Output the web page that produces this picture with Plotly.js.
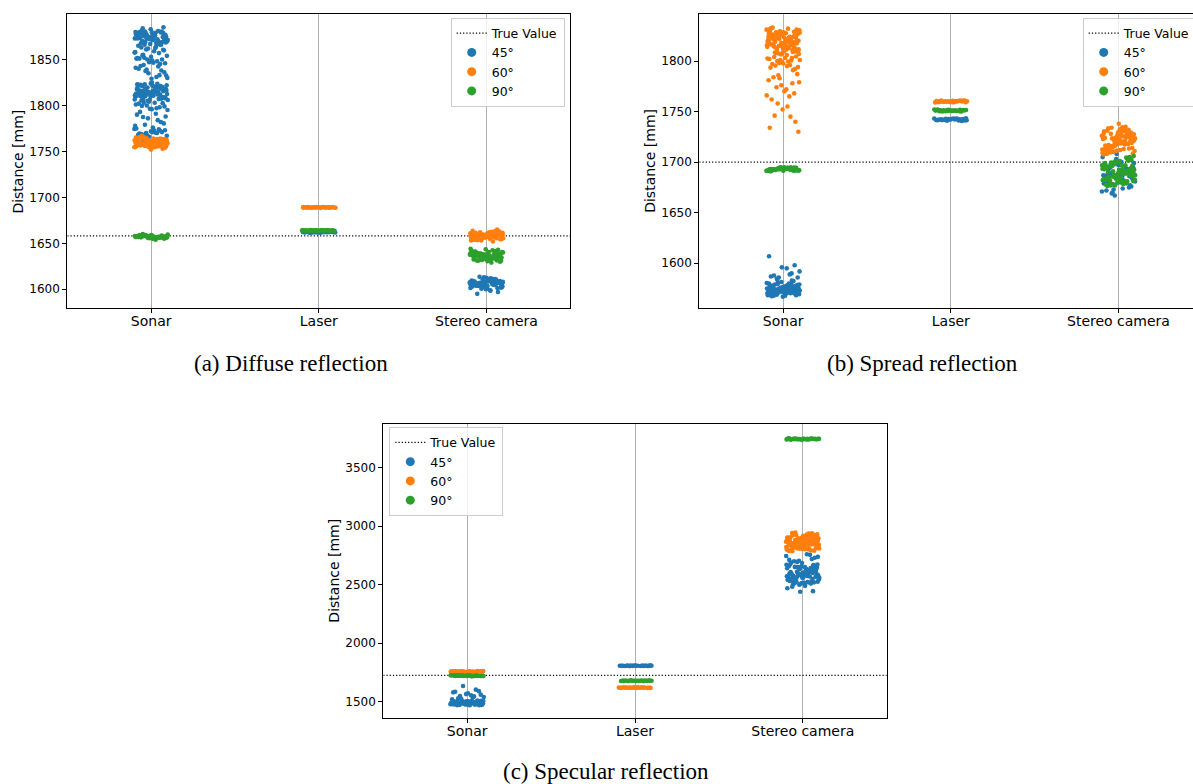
<!DOCTYPE html>
<html><head><meta charset="utf-8">
<script src="https://cdn.plot.ly/plotly-3.0.1.min.js"></script>
<style>html,body{margin:0;padding:0;overflow:hidden;background:#fff}</style>
</head><body><div id="chart"></div>
<script>
// ---------- categories / labels ----------
const categories = ['Sonar', 'Laser', 'Stereo camera'];
const angleLabels = ['45°', '60°', '90°'];
const trueValueLabel = 'True Value';
const yTitle = 'Distance [mm]';
const captions = ['(a) Diffuse reflection', '(b) Spread reflection', '(c) Specular reflection'];
const trueValues = [1658, 1700, 1725];

// ---------- (a) Diffuse reflection ----------
const diffSonar45 = [1876,1870,1879,1867,1873,1881,1869,1875,1872,1878,1866,1874,1880,1868,1877,1871,1875,1879,1867,1873,1870,1876,1881,1869,1874,1878,1872,1866,1877,1871,1880,1868,1875,1873,1879,1884,1885,1883,
  1876.5,1869.5,1878.5,1871.5,1874.5,1867.5,1880.5,1872.5,1877.5,1868.5,1875.5,1870.5,1879.5,1873.5,1866.5,1876.5,1871.5,1878.5,1869.5,1874.5,1872.5,1877.5,1870.5,1880.5,1868.5,1875.5,1873.5,1879.5,
  1862,1858,1864,1855,1860,1853,1865,1857,1861,1854,1859,1863,1850,1847,1851,1848,1852,1846,1849,1851,1845,1850,
  1857.5,1862.5,1854.5,1860.5,1848.5,1851.5,1842.5,1837.5,1832.5,1846.5,
  1843,1838,1835,1841,1831,1844,1836,1829,1840,1833,1839,1830,
  1815,1810,1820,1806,1818,1812,1823,1808,1816,1813,1821,1805,1811,1819,1814,1809,1824,1817,1807,1812,1822,1815,1810,1818,1804,1813,1820,1816,1808,1825,1811,1819,1814,1806,1817,1821,1809,1812,1823,1815,1810,1818,1813,1816,1820,
  1814.5,1809.5,1819.5,1806.5,1817.5,1811.5,1822.5,1807.5,1815.5,1812.5,1820.5,1805.5,1818.5,1813.5,1810.5,1823.5,1816.5,1808.5,1821.5,1814.5,1811.5,1819.5,1806.5,1817.5,1812.5,1815.5,1809.5,1820.5,1813.5,1818.5,1816.5,1810.5,1822.5,1807.5,1814.5,
  1801,1797,1803,1799,1796,1802,1798,1800,1795,1803,1799.5,1802.5,1796.5,
  1790,1784,1779,1788,1776,1793,1782,1786,1778,1791,1787.5,1780.5,
  1772,1768,1774,1770,1767,1773,1769,1771,1766,1775,1770,1768,1773,1771,1769.5,1772.5,1767.5,1774.5,1770.5,
  1760,1763,1758,1765,1761,1764];
const diffSonar60 = [1760,1756,1763,1758,1765,1754,1761,1757,1764,1759,1762,1755,1766,1760,1757,1763,1758,1761,1756,1764,1759,1762,1755,1765,1760,1757,1763,1758,1761,1756,1764,1759,1762,1767,1753,1760,1758,1763,1756,1761,1759,1765,1757,1762,1755,1760,1764,1758,1752,1761,
  1759.5,1756.5,1762.5,1754.5,1764.5,1757.5,1761.5,1755.5,1763.5,1758.5,1760.5,1756.5,1765.5,1758.5,1762.5,1754.5,1760.5,1757.5,1763.5,1759.5,1761.5,1755.5,1764.5,1758.5,1762.5,1756.5,1760.5,1757.5,1759.5,1761.5];
const diffSonar90 = [1657,1656,1658,1655,1659,1657,1656,1658,1657,1655,1659,1656,1658,1657,1656,1658,1657,1655,1659,1657,1656,1658,1654,1660,1657,1656,1658,1657,1659,1656,
  1657.5,1656.5,1658.5,1655.5,1657.5,1656.5,1658.5,1657.5,1655.5,1658.5,1656.5,1657.5,1659.5,1656.5,1657.5];
const diffLaser45 = [1661.8,1662.3,1661.5,1662.6,1662.0,1661.7,1662.4,1661.9,1662.2,1661.6,1662.5,1662.1,1661.8,1662.3,1662.0,1661.6,1662.4,1661.9,1662.2,1662.0];
const diffLaser60 = [1689.1,1688.7,1689.4,1688.9,1689.2,1688.6,1689.5,1689.0,1688.8,1689.3,1689.1,1688.7,1689.4,1689.0,1688.9,1689.2,1689.3,1688.8,1689.1,1689.0,1688.6,1689.5,1689.2,1688.9,1689.1];
const diffLaser90 = [1663.8,1664.2,1663.6,1664.4,1664.0,1663.7,1664.3,1663.9,1664.1,1663.5,1664.5,1664.0,1663.8,1664.2,1663.9,1664.1,1663.7,1664.3,1664.0,1663.6,1664.4,1663.9,1664.1,1664.0,1663.8];
const diffStereo45 = [1606,1603,1609,1605,1601,1608,1604,1611,1607,1602,1610,1605,1608,1603,1606,1612,1604,1607,1600,1609,1605,1606,1602,1610,1604,1608,1613,1603,1607,1605,1609,1601,1606,1611,1604,1608,1599,1595,1597,1606,1603,1609,
  1605.5,1602.5,1608.5,1604.5,1610.5,1606.5,1601.5,1609.5,1603.5,1607.5,1612.5,1605.5,1608.5,1600.5,1606.5,1611.5,1604.5,1607.5,1602.5,1609.5,1605.5,1613.5,1606.5,1603.5,1608.5,1604.5,1610.5,1607.5,1598.5,1606.5];
const diffStereo60 = [1658,1655,1661,1657,1653,1660,1656,1662,1659,1654,1663,1657,1660,1655,1658,1661,1656,1659,1652,1662,1657,1660,1654,1658,1656,1661,1659,1655,1663,1657,1658,1660,1653,1656,1662,1659,1665,1657,1655,1660,
  1657.5,1654.5,1660.5,1656.5,1662.5,1658.5,1655.5,1661.5,1653.5,1659.5,1657.5,1663.5,1656.5,1660.5,1654.5,1658.5,1661.5,1655.5,1659.5,1657.5,1662.5,1656.5,1660.5,1658.5,1654.5,1659.5,1657.5,1661.5,1655.5,1658.5];
const diffStereo90 = [1636,1633,1639,1635,1631,1638,1634,1641,1637,1632,1640,1635,1638,1633,1636,1642,1634,1637,1630,1639,1635,1636,1632,1640,1634,1638,1643,1633,1637,1635,1639,1631,1636,1641,1634,1638,1644,1629,1636,1637,
  1635.5,1632.5,1638.5,1634.5,1640.5,1636.5,1631.5,1639.5,1633.5,1637.5,1642.5,1635.5,1638.5,1630.5,1636.5,1641.5,1634.5,1637.5,1632.5,1639.5,1635.5,1643.5,1636.5,1633.5,1638.5,1634.5,1640.5,1637.5,1631.5,1636.5];

// ---------- (b) Spread reflection ----------
const sprSonar45 = [1575,1571,1579,1573,1568,1577,1572,1580,1574,1569,1578,1576,1570,1582,1573,1575,1571,1579,1574,1567,1577,1572,1581,1575,1570,1578,1573,1576,1569,1580,1574,1572,1577,1571,1583,1575,1573,1578,1570,1576,1574,1579,1572,1584,1575,1568,1577,1573,
  1574.5,1570.5,1578.5,1572.5,1568.5,1576.5,1571.5,1579.5,1573.5,1569.5,1577.5,1575.5,1570.5,1581.5,1572.5,1574.5,1571.5,1578.5,1573.5,1567.5,1576.5,1572.5,1580.5,1574.5,1569.5,1577.5,1573.5,1575.5,1570.5,1579.5,1571.5,1576.5,1572.5,1582.5,1574.5,1568.5,1577.5,1573.5,1575.5,1571.5,
  1587,1590,1586,1592,1595,1588,1598,1596,1607,1589,1585,1586];
const sprSonar60 = [1820,1814,1826,1810,1829,1817,1823,1808,1831,1812,1825,1819,1815,1828,1806,1821,1813,1827,1818,1824,1811,1830,1816,1822,1809,1826,1814,1832,1819,1823,1812,1828,1817,1825,1807,1821,1815,1829,1818,1824,1813,1827,1820,1810,1826,1816,1822,1831,1819,1814,1825,1808,1828,1817,1823,1811,1821,1833,1815,1826,
  1819.5,1813.5,1825.5,1809.5,1828.5,1816.5,1822.5,1807.5,1830.5,1811.5,1824.5,1818.5,1814.5,1827.5,1821.5,1812.5,1826.5,1817.5,1823.5,1810.5,1829.5,1815.5,1820.5,1808.5,1825.5,1813.5,1831.5,1818.5,1822.5,1811.5,1827.5,1816.5,1824.5,1806.5,1820.5,1814.5,1828.5,1817.5,1823.5,1832.5,
  1803,1798,1801,1795,1804,1792,1799,1802,1796,1800,1794,1803,1797,1791,1801,1802.5,1799.5,1795.5,1804.5,1797.5,1793.5,1800.5,
  1786,1779,1772,1784,1768,1776,1781,1765,1774,1787,1770,1762,1778,1783,1766,
  1755,1746,1740,1752,1734,1745,1758,1730];
const sprSonar90 = [1693,1692,1694,1691.5,1694.5,1693,1692,1694,1691,1695,1693,1692,1694,1693,1691.5,1694.5,1692,1694,1693,1692,1695,1691,1694,1693,1691.5,1694.5,1693,1692,1694,1693,
  1692.5,1693.5,1691.8,1694.2,1692.8,1693.2,1694.8,1691.2,1693.7,1692.3,1694.4,1691.6,1693.1,1692.6,1694.1,1691.9,1693.4,1692.2,1694.6,1693.0];
const sprLaser45 = [1742,1741.2,1742.8,1741.5,1743.2,1742.3,1740.8,1742.6,1741.7,1743.0,1742.1,1741.3,1742.9,1741.9,1742.4,1740.9,1743.1,1742.2,1741.6,1742.7,1742.0,1741.4,1742.5,1741.8,1743.3];
const sprLaser60 = [1760,1759.3,1760.7,1759.6,1761.0,1760.2,1759.1,1760.5,1759.8,1760.9,1760.1,1759.4,1760.6,1759.9,1760.3,1759.2,1760.8,1760.0,1759.5,1760.4,1760.1,1759.7,1760.6,1759.3,1760.2];
const sprLaser90 = [1751,1750.3,1751.7,1750.6,1752.0,1751.2,1750.1,1751.5,1750.8,1751.9,1751.1,1750.4,1751.6,1750.9,1751.3,1750.2,1751.8,1751.0,1750.5,1751.4,1751.1,1750.7,1751.6,1750.3,1751.2];
const sprStereo45 = [1688,1682,1694,1678,1699,1685,1691,1675,1703,1687,1680,1696,1684,1692,1672,1689,1698,1681,1686,1694,1677,1701,1683,1690,1670,1695,1687,1679,1693,1685,1705,1682,1689,1676,1697,1684,1691,1673,1688,1700,1681,1686,1708,1679,1692,1669,1694,1683,1687,1690,1667,1671,1674];
const sprStereo60 = [1721,1715,1727,1712,1731,1718,1724,1709,1733,1716,1729,1720,1713,1726,1710,1722,1730,1717,1725,1711,1728,1719,1734,1714,1723,1708,1731,1716,1726,1720,1712,1729,1718,1724,1735,1715,1721,1727,1710,1732,1717,1723,1713,1728,1719,1738,1714,1725,1722,1711,
  1720.5,1714.5,1726.5,1711.5,1730.5,1717.5,1723.5,1708.5,1732.5,1715.5,1728.5,1719.5,1712.5,1725.5,1709.5,1721.5,1729.5,1716.5,1724.5,1710.5,1727.5,1718.5,1733.5,1713.5,1722.5,1707.5,1730.5,1715.5,1725.5,1719.5,1711.5,1728.5,1717.5,1723.5,1734.5,1714.5,1720.5,1726.5,1712.5,1731.5];
const sprStereo90 = [1690,1684,1696,1681,1700,1687,1693,1678,1704,1688,1683,1697,1686,1692,1680,1695,1689,1699,1682,1691,1677,1702,1685,1694,1679,1698,1687,1690,1683,1705,1686,1693,1681,1696,1688,1701,1684,1692,1677,1697,1689,1682,1694,1686,1699,1680,1691,1706,1685,1690,
  1689.5,1683.5,1695.5,1680.5,1699.5,1686.5,1692.5,1677.5,1703.5,1687.5,1682.5,1696.5,1685.5,1691.5,1679.5,1694.5,1688.5,1698.5,1681.5,1690.5,1676.5,1701.5,1684.5,1693.5,1678.5,1697.5,1686.5,1689.5,1682.5,1704.5,1685.5,1692.5,1680.5,1695.5,1687.5,1700.5,1683.5,1691.5,1678.5,1696.5];

// ---------- (c) Specular reflection ----------
const specSonar45 = [1490,1482,1498,1476,1505,1487,1494,1471,1502,1485,1479,1496,1488,1508,1474,1492,1483,1500,1478,1495,1486,1470,1504,1489,1481,1497,1475,1493,1484,1510,1480,1491,1499,1473,1487,1503,1477,1494,1485,1506,
  1489.5,1481.5,1497.5,1475.5,1504.5,1486.5,1493.5,1472.5,1501.5,1484.5,1478.5,1495.5,1487.5,1507.5,1473.5,1491.5,1482.5,1499.5,1477.5,1494.5,1485.5,1469.5,1503.5,1488.5,1480.5,
  1520,1535,1548,1560,1572,1585,1603,1634,1540,1555,1528,1590,1565,1580,1545,1525];
const specSonar60 = [1757,1754,1760,1755,1759,1756,1761,1753,1758,1757,1755,1760,1756,1759,1754,1758,1761,1756,1757,1759,1753,1758,1755,1760,1757,1756,1759,1754,1758,1757];
const specSonar90 = [1722,1719,1725,1720,1724,1721,1726,1718,1723,1722,1720,1725,1721,1724,1719,1723,1726,1721,1722,1724,1718,1723,1720,1725,1722,1721,1724,1719,1723,1722];
const specLaser45 = [1807,1805,1809,1806,1808,1804,1810,1807,1805.5,1808.5,1806.5,1807.5,1805,1809,1806,1808,1807,1804.5,1809.5,1807];
const specLaser60 = [1620,1618,1622,1619,1621,1617,1623,1620,1618.5,1621.5,1619.5,1620.5,1618,1622,1619,1621,1620,1617.5,1622.5,1620];
const specLaser90 = [1679,1677,1681,1678,1680,1676,1682,1679,1677.5,1680.5,1678.5,1679.5,1677,1681,1678,1680,1679,1676.5,1681.5,1679];
const specStereo45 = [2590,2540,2630,2515,2660,2570,2610,2525,2650,2555,2600,2505,2640,2580,2535,2620,2560,2675,2510,2595,2545,2635,2575,2520,2655,2565,2605,2530,2645,2585,2550,2615,2500,2670,2575,2540,2625,2560,2595,2515,2650,2580,2610,2535,2665,
  2588,2542,2628,2518,2658,2568,2608,2528,2648,2558,2598,2508,2638,2578,2538,2618,2562,2672,2512,2592,2548,2632,2572,2522,2652,2568,2602,2532,2642,2582,2552,2612,2502,2668,2578,2542,2622,2562,2592,2518,
  2690,2720,2705,2745,2760,2700,2730,2685,2712,2755,2695,2738,2490,2482,2445,2440,2470];
const specStereo60 = [2865,2830,2900,2812,2925,2848,2880,2795,2940,2858,2822,2910,2840,2888,2805,2870,2932,2818,2895,2850,2786,2915,2835,2876,2802,2945,2860,2826,2905,2844,2884,2810,2920,2855,2790,2898,2838,2872,2815,2930,2852,2828,2908,2868,2800,2890,2845,2918,2832,2878,
  2862,2828,2897,2815,2922,2846,2882,2798,2937,2856,2824,2907,2842,2886,2808,2868,2929,2820,2892,2852,2789,2912,2836,2874,2804,2942,2862,2828,2902,2846,2881,2812,2917,2857,2793,2896,2840,2870,2817,2927];
const specStereo90 = [3745,3741,3749,3743,3747,3740,3750,3744,3746,3742,3748,3745,3739,3751,3744,3746,3743,3747,3741,3749,3745,3742,3748,3744,3746,3740,3750,3745,3743,3747];

// ---------- assembly ----------
const panelData = [
  [[diffSonar45, diffLaser45, diffStereo45], [diffSonar60, diffLaser60, diffStereo60], [diffSonar90, diffLaser90, diffStereo90]],
  [[sprSonar45, sprLaser45, sprStereo45], [sprSonar60, sprLaser60, sprStereo60], [sprSonar90, sprLaser90, sprStereo90]],
  [[specSonar45, specLaser45, specStereo45], [specSonar60, specLaser60, specStereo60], [specSonar90, specLaser90, specStereo90]]
];

const colors = ['#1f77b4', '#ff7f0e', '#2ca02c'];
const W = 1215, H = 784;
const px = v => v / W, py = v => 1 - v / H;
// pixel boxes: [left, right, top, bottom]
const boxes = [[67.3, 570.3, 14.3, 308.3], [699.3, 1202.3, 14.3, 308.3], [383.3, 886.7, 424, 718.3]];
const yRanges = [[1579.3, 1899.2], [1555.5, 1846.2], [1358, 3873.5]];
const yDticks = [50, 50, 500];
const legendPos = [[450.7, 17.5], [1082.7, 17.5], [389.3, 426.8]];
const ytitlePos = [18.3, 650.5, 334.5];
const captionPos = [[290.5, 363], [922, 363], [606, 771]];

const traces = [];
const layout = {
  width: W, height: H,
  margin: {l: 0, r: 0, t: 0, b: 0},
  paper_bgcolor: '#fff', plot_bgcolor: '#fff',
  font: {family: 'DejaVu Sans', color: '#000'},
  showlegend: true,
  annotations: []
};

for (let p = 0; p < 3; p++) {
  const sfx = p === 0 ? '' : String(p + 1);
  const xa = 'x' + sfx, ya = 'y' + sfx, lg = 'legend' + sfx;
  const b = boxes[p];
  layout['xaxis' + sfx] = {
    domain: [px(b[0]), px(b[1])], anchor: ya, range: [-0.5, 2.5],
    tickmode: 'array', tickvals: [0, 1, 2], ticktext: categories,
    showgrid: true, gridcolor: '#b0b0b0', gridwidth: 1, zeroline: false,
    showline: true, mirror: true, linecolor: '#000', linewidth: 1,
    ticks: 'outside', ticklen: 4, tickwidth: 1, tickcolor: '#000', ticklabelstandoff: -4,
    tickfont: {size: 14, family: 'DejaVu Sans', color: '#000'}, fixedrange: true
  };
  layout['yaxis' + sfx] = {
    domain: [py(b[3]), py(b[2])], anchor: xa, range: yRanges[p],
    dtick: yDticks[p], tick0: 0, showgrid: false, zeroline: false,
    showline: true, mirror: true, linecolor: '#000', linewidth: 1,
    ticks: 'outside', ticklen: 4, tickwidth: 1, tickcolor: '#000',
    tickfont: {size: 12, family: 'DejaVu Sans', color: '#000'}, fixedrange: true
  };
  layout[lg] = {
    x: px(legendPos[p][0]), y: py(legendPos[p][1]), xanchor: 'left', yanchor: 'top',
    xref: 'paper', yref: 'paper',
    bgcolor: 'rgba(255,255,255,0.8)', bordercolor: '#cccccc', borderwidth: 1,
    font: {size: 12.5, family: 'DejaVu Sans', color: '#000'}, tracegroupgap: 0
  };
  // true value line
  traces.push({
    type: 'scatter', mode: 'lines', x: [-0.5, 2.5], y: [trueValues[p], trueValues[p]],
    xaxis: xa, yaxis: ya, legend: lg, name: trueValueLabel, showlegend: true,
    line: {color: '#000', width: 1.2, dash: '1.2px,2px'}, hoverinfo: 'skip'
  });
  // legend entries
  for (let a = 0; a < 3; a++) {
    traces.push({
      type: 'scatter', mode: 'markers', x: [null], y: [null], xaxis: xa, yaxis: ya,
      legend: lg, name: angleLabels[a], showlegend: true,
      marker: {color: colors[a], size: 9}, hoverinfo: 'skip'
    });
  }
  // strip points
  for (let a = 0; a < 3; a++) {
    const xs = [], ys = [];
    for (let s = 0; s < 3; s++) {
      const vals = panelData[p][a][s];
      for (let i = 0; i < vals.length; i++) {
        const f = ((i + 1) * 0.6180339887 + s * 0.37 + a * 0.21 + p * 0.13) % 1;
        xs.push(s + 0.1 * (2 * f - 1));
        ys.push(vals[i]);
      }
    }
    traces.push({
      type: 'scatter', mode: 'markers', x: xs, y: ys, xaxis: xa, yaxis: ya,
      showlegend: false, name: angleLabels[a],
      marker: {color: colors[a], size: 4.6, line: {width: 0}}, hoverinfo: 'skip'
    });
  }
  layout.annotations.push({
    xref: 'paper', yref: 'paper', x: px(ytitlePos[p]), y: py((b[2] + b[3]) / 2),
    text: yTitle, textangle: -90, showarrow: false, xanchor: 'center', yanchor: 'middle',
    font: {size: 14, family: 'DejaVu Sans', color: '#000'}
  });
  layout.annotations.push({
    xref: 'paper', yref: 'paper', x: px(captionPos[p][0]), y: py(captionPos[p][1]),
    text: captions[p], showarrow: false, xanchor: 'center', yanchor: 'middle',
    font: {size: 23, family: 'Liberation Serif', color: '#000'}
  });
}

Plotly.newPlot('chart', traces, layout, {displayModeBar: false, staticPlot: true});
</script>
</body></html>
